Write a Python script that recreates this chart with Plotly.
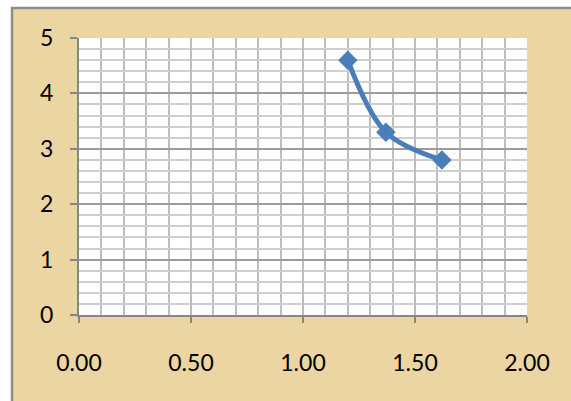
import plotly.graph_objects as go

# Measured series
x_vals = [1.2, 1.37, 1.62]
y_vals = [4.6, 3.3, 2.8]

x_ticks = [0.0, 0.5, 1.0, 1.5, 2.0]
x_tick_text = ["0.00", "0.50", "1.00", "1.50", "2.00"]
y_ticks = [0, 1, 2, 3, 4, 5]

W, H = 571, 401
L, R, T, B = 79, 527, 38, 315  # plot area in pixels

def px_to_paper_x(px):
    return (px - L) / (R - L)

def px_to_paper_y(py):
    return (B - py) / (B - T)

fig = go.Figure()
fig.add_trace(go.Scatter(
    x=x_vals, y=y_vals,
    mode="lines+markers",
    line=dict(color="#4A7EBB", width=5, shape="spline", smoothing=1),
    marker=dict(symbol="diamond", size=15, color="#4A7EBB"),
    showlegend=False,
    hoverinfo="x+y",
))

# parchment chart area with grey frame
fig.add_shape(
    type="rect", xref="paper", yref="paper", layer="below",
    x0=px_to_paper_x(12), x1=px_to_paper_x(600),
    y0=px_to_paper_y(430), y1=px_to_paper_y(8),
    fillcolor="#EBD5A2", line=dict(color="#8C8C8C", width=2.5),
)
# white plotting surface on top of the parchment
fig.add_shape(
    type="rect", xref="paper", yref="paper", layer="below",
    x0=0, x1=1, y0=0, y1=1,
    fillcolor="white", line=dict(width=0),
)

fig.update_layout(
    width=W, height=H,
    margin=dict(l=L, r=W - R, t=T, b=H - B),
    paper_bgcolor="white",
    plot_bgcolor="white",
    font=dict(family="Lato, Carlito, sans-serif", size=23, color="black"),
    xaxis=dict(
        range=[0, 2], tickvals=x_ticks, ticktext=x_tick_text,
        showgrid=True, gridcolor="#BEBEBE", gridwidth=2,
        minor=dict(dtick=0.1, showgrid=True, gridcolor="#BEBEBE", gridwidth=2),
        showline=True, linecolor="#868686", linewidth=2,
        ticks="outside", ticklen=6, tickcolor="#868686", tickwidth=2,
        ticklabelstandoff=20, zeroline=False, fixedrange=True,
    ),
    yaxis=dict(
        range=[0, 5], tickvals=y_ticks,
        showgrid=True, gridcolor="#9C9C9C", gridwidth=2,
        minor=dict(dtick=0.2, showgrid=True, gridcolor="#CFCFCF", gridwidth=1.5),
        showline=True, linecolor="#868686", linewidth=2,
        ticks="outside", ticklen=7, tickcolor="#868686", tickwidth=2,
        ticklabelstandoff=12, zeroline=False, fixedrange=True,
    ),
)

fig.write_html("out.html")
